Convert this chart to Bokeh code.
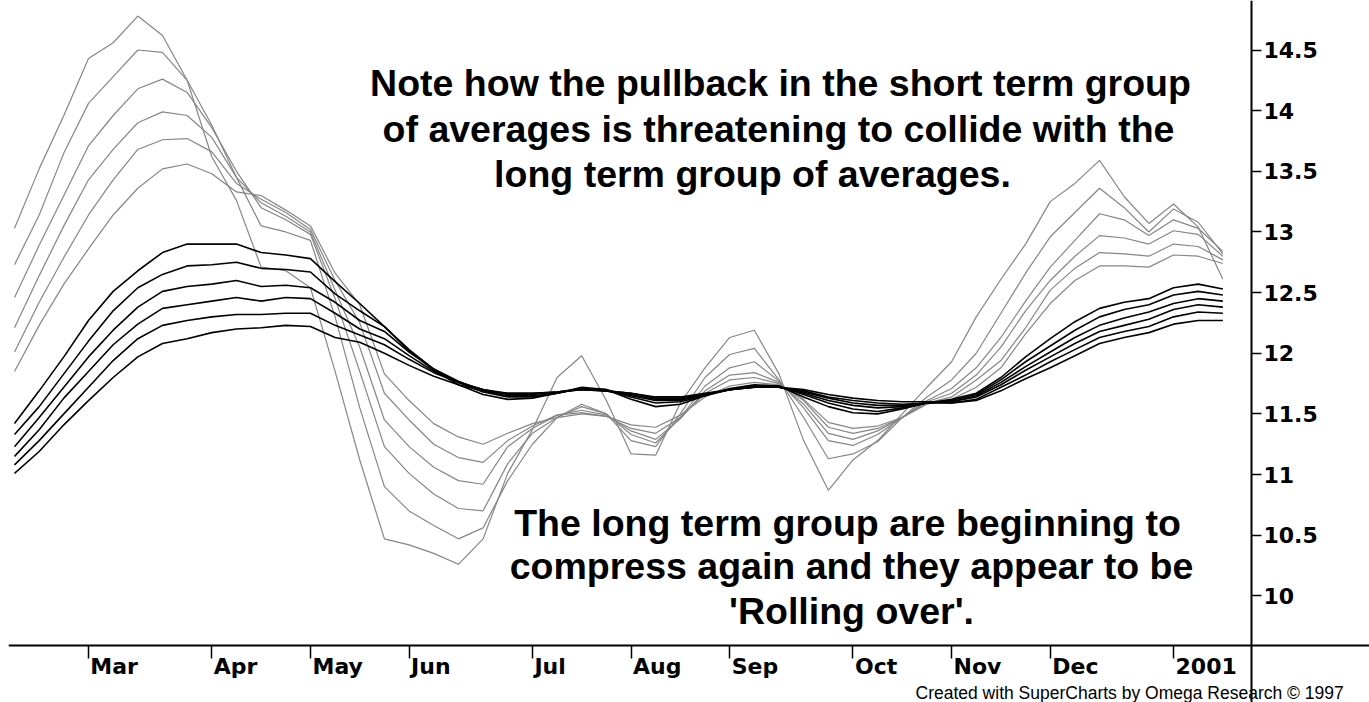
import pandas as pd
from bokeh.plotting import figure
from bokeh.models import Range1d, FixedTicker, Label, LinearAxis
from bokeh.embed import file_html
from bokeh.resources import INLINE

# ---------------- data (weekly closes, Fridays) ----------------
dates = pd.date_range("2000-02-11", periods=50, freq="7D")

month_ticks = ["2000-03-03", "2000-04-07", "2000-05-05", "2000-06-02", "2000-07-07",
               "2000-08-04", "2000-09-01", "2000-10-06", "2000-11-03", "2000-12-01",
               "2001-01-05"]
month_labels = ["Mar", "Apr", "May", "Jun", "Jul", "Aug", "Sep", "Oct", "Nov", "Dec", "2001"]

y_ticks = [10, 10.5, 11, 11.5, 12, 12.5, 13, 13.5, 14, 14.5]
y_labels = ["10", "10.5", "11", "11.5", "12", "12.5", "13", "13.5", "14", "14.5"]

# short term group (grey)
ema3 = [13.03, 13.52, 13.96, 14.43, 14.56, 14.78, 14.62, 14.25, 13.62, 13.26,
        12.71, 12.68, 12.54, 11.85, 11.12, 10.47, 10.42, 10.35, 10.26, 10.47,
        11.01, 11.37, 11.80, 11.98, 11.61, 11.17, 11.16, 11.59, 11.88, 12.13,
        12.19, 11.83, 11.28, 10.87, 11.12, 11.28, 11.50, 11.72, 11.93, 12.30,
        12.61, 12.90, 13.25, 13.40, 13.59, 13.29, 13.07, 13.23, 13.04, 12.61]
ema5 = [12.73, 13.14, 13.65, 14.06, 14.28, 14.50, 14.48, 14.25, 13.88, 13.45,
        13.05, 13.00, 12.93, 12.30, 11.55, 10.90, 10.70, 10.58, 10.47, 10.56,
        10.95, 11.25, 11.47, 11.58, 11.50, 11.28, 11.23, 11.50, 11.80, 11.99,
        12.04, 11.78, 11.47, 11.13, 11.17, 11.27, 11.47, 11.64, 11.78, 12.00,
        12.33, 12.66, 12.96, 13.16, 13.36, 13.20, 13.00, 13.19, 13.08, 12.82]
ema8 = [12.46, 12.89, 13.30, 13.71, 13.96, 14.18, 14.26, 14.15, 13.86, 13.50,
        13.20, 13.10, 12.98, 12.45, 11.85, 11.23, 11.01, 10.84, 10.72, 10.70,
        11.09, 11.34, 11.47, 11.56, 11.50, 11.33, 11.26, 11.47, 11.73, 11.88,
        11.93, 11.77, 11.55, 11.28, 11.24, 11.33, 11.47, 11.61, 11.71, 11.88,
        12.13, 12.43, 12.71, 12.93, 13.15, 13.10, 12.97, 13.10, 13.03, 12.84]
ema10 = [12.21, 12.64, 13.05, 13.43, 13.68, 13.90, 13.99, 13.96, 13.78, 13.45,
         13.24, 13.13, 13.00, 12.52, 12.05, 11.45, 11.23, 11.06, 10.95, 10.92,
         11.23, 11.38, 11.49, 11.53, 11.49, 11.36, 11.29, 11.46, 11.69, 11.82,
         11.84, 11.76, 11.58, 11.34, 11.29, 11.36, 11.47, 11.60, 11.67, 11.82,
         12.05, 12.35, 12.60, 12.80, 12.97, 12.95, 12.90, 13.01, 12.98, 12.80]
ema12 = [12.01, 12.42, 12.79, 13.14, 13.43, 13.68, 13.76, 13.77, 13.66, 13.40,
         13.27, 13.16, 13.02, 12.60, 12.25, 11.67, 11.45, 11.25, 11.14, 11.10,
         11.28, 11.40, 11.49, 11.51, 11.48, 11.38, 11.34, 11.47, 11.67, 11.78,
         11.80, 11.75, 11.61, 11.39, 11.34, 11.38, 11.47, 11.59, 11.64, 11.78,
         11.94, 12.21, 12.52, 12.70, 12.83, 12.82, 12.80, 12.90, 12.88, 12.77]
ema15 = [11.85, 12.23, 12.57, 12.86, 13.14, 13.36, 13.52, 13.56, 13.48, 13.33,
         13.30, 13.18, 13.05, 12.66, 12.40, 11.83, 11.61, 11.42, 11.31, 11.25,
         11.34, 11.42, 11.47, 11.50, 11.48, 11.41, 11.39, 11.49, 11.64, 11.73,
         11.76, 11.74, 11.62, 11.43, 11.38, 11.40, 11.47, 11.58, 11.62, 11.72,
         11.88, 12.16, 12.41, 12.60, 12.72, 12.72, 12.71, 12.81, 12.80, 12.74]

# long term group (black)
ema30 = [11.42, 11.69, 11.97, 12.27, 12.51, 12.68, 12.83, 12.90, 12.90, 12.90,
         12.83, 12.81, 12.78, 12.59, 12.41, 12.22, 12.02, 11.86, 11.74, 11.66,
         11.62, 11.63, 11.67, 11.72, 11.70, 11.62, 11.56, 11.58, 11.65, 11.71,
         11.74, 11.73, 11.64, 11.56, 11.51, 11.50, 11.54, 11.59, 11.62, 11.67,
         11.80, 11.97, 12.12, 12.26, 12.37, 12.42, 12.45, 12.54, 12.57, 12.53]
ema35 = [11.33, 11.56, 11.83, 12.10, 12.35, 12.54, 12.65, 12.72, 12.73, 12.75,
         12.70, 12.69, 12.67, 12.49, 12.35, 12.22, 12.03, 11.87, 11.76, 11.68,
         11.64, 11.64, 11.67, 11.71, 11.70, 11.64, 11.59, 11.60, 11.65, 11.70,
         11.73, 11.73, 11.66, 11.59, 11.54, 11.52, 11.55, 11.59, 11.61, 11.66,
         11.78, 11.93, 12.06, 12.19, 12.30, 12.36, 12.40, 12.48, 12.51, 12.48]
ema40 = [11.23, 11.47, 11.72, 11.97, 12.19, 12.38, 12.51, 12.55, 12.57, 12.60,
         12.55, 12.56, 12.54, 12.42, 12.27, 12.18, 12.01, 11.87, 11.77, 11.69,
         11.65, 11.65, 11.67, 11.71, 11.69, 11.65, 11.61, 11.61, 11.66, 11.70,
         11.73, 11.72, 11.67, 11.61, 11.57, 11.55, 11.56, 11.59, 11.60, 11.65,
         11.76, 11.89, 12.01, 12.13, 12.23, 12.29, 12.34, 12.41, 12.45, 12.43]
ema45 = [11.15, 11.37, 11.63, 11.85, 12.07, 12.24, 12.37, 12.40, 12.43, 12.46,
         12.43, 12.46, 12.45, 12.33, 12.20, 12.12, 11.98, 11.85, 11.76, 11.70,
         11.66, 11.66, 11.68, 11.71, 11.69, 11.66, 11.62, 11.62, 11.66, 11.70,
         11.72, 11.72, 11.68, 11.63, 11.59, 11.57, 11.57, 11.59, 11.60, 11.64,
         11.74, 11.86, 11.97, 12.08, 12.18, 12.23, 12.28, 12.36, 12.40, 12.38]
ema50 = [11.08, 11.28, 11.50, 11.72, 11.94, 12.12, 12.23, 12.27, 12.30, 12.32,
         12.32, 12.33, 12.33, 12.23, 12.15, 12.07, 11.95, 11.84, 11.76, 11.70,
         11.67, 11.67, 11.68, 11.70, 11.69, 11.67, 11.63, 11.63, 11.66, 11.70,
         11.72, 11.72, 11.69, 11.64, 11.61, 11.59, 11.58, 11.59, 11.59, 11.62,
         11.72, 11.82, 11.93, 12.03, 12.13, 12.18, 12.22, 12.30, 12.34, 12.33]
ema60 = [11.01, 11.19, 11.41, 11.61, 11.80, 11.97, 12.08, 12.12, 12.17, 12.20,
         12.21, 12.23, 12.22, 12.13, 12.09, 12.00, 11.90, 11.81, 11.74, 11.69,
         11.67, 11.67, 11.68, 11.70, 11.69, 11.67, 11.64, 11.64, 11.67, 11.70,
         11.72, 11.72, 11.70, 11.66, 11.63, 11.61, 11.60, 11.60, 11.59, 11.61,
         11.69, 11.79, 11.88, 11.98, 12.08, 12.13, 12.17, 12.24, 12.27, 12.27]

short_group = [ema3, ema5, ema8, ema10, ema12, ema15]
long_group = [ema30, ema35, ema40, ema45, ema50, ema60]

note_top = ["Note how the pullback in the short term group",
            "of averages is threatening to collide with the",
            "long term group of averages."]
note_bottom = ["The long term group are beginning to",
               "compress again and they appear to be",
               "'Rolling over'."]
credit = "Created with SuperCharts by Omega Research \u00a9 1997"

# ---------------- helpers: canvas pixel -> data (layout only) ----------------
T0 = pd.Timestamp("2000-03-03").value / 1e6
WEEK = 7 * 24 * 3600 * 1000.0


def px_x(px):
    return T0 + (px - 88.0) / 24.66 * WEEK


def px_y(py):
    return 14.5 - (py - 49.5) / 121.3


W, H = 1369, 702
p = figure(width=W, height=H, x_axis_type="datetime", y_axis_location="right",
           x_range=Range1d(px_x(8), px_x(W)), y_range=Range1d(px_y(H), px_y(0)),
           output_backend="svg", toolbar_location=None,
           min_border_left=8, min_border_top=0, min_border_right=0, min_border_bottom=0)
p.outline_line_color = None
p.xgrid.visible = False
p.ygrid.visible = False
p.background_fill_color = "white"
p.border_fill_color = "white"

for s in short_group:
    p.line(dates, s, line_color="#868686", line_width=1.2)
for s in long_group:
    p.line(dates, s, line_color="#000000", line_width=1.6)

FONT_AX = "DejaVu Sans"

# x axis: line and month ticks
tick_ms = [int(pd.Timestamp(d).value / 1e6) for d in month_ticks]
xa = p.xaxis[0]
xa.fixed_location = px_y(645)
xa.ticker = FixedTicker(ticks=tick_ms)
xa.major_label_overrides = {t: "" for t in tick_ms}
xa.axis_line_width = 2
xa.axis_line_color = "black"
xa.major_tick_in = 0
xa.major_tick_out = 13
xa.major_tick_line_width = 1.5
xa.minor_tick_out = 0
xa.minor_tick_in = 0

# month names, drawn by a label-only axis so they start at their ticks
em = {"Mar": 2.142, "Apr": 1.983, "May": 2.300, "Jun": 1.796, "Jul": 1.427, "Aug": 2.202,
      "Sep": 2.115, "Oct": 1.921, "Nov": 2.174, "Dec": 2.099, "2001": 2.784}
lab_fs = 22
lab_pos = [int(t + (2 + em[l] * lab_fs / 2) / 24.66 * WEEK) for t, l in zip(tick_ms, month_labels)]
xl = LinearAxis(ticker=FixedTicker(ticks=lab_pos),
                major_label_overrides=dict(zip(lab_pos, month_labels)),
                fixed_location=px_y(645), axis_line_color=None,
                major_tick_in=0, major_tick_out=0, minor_tick_in=0, minor_tick_out=0,
                major_label_standoff=8, major_label_text_font=FONT_AX,
                major_label_text_font_style="bold",
                major_label_text_font_size=f"{lab_fs}px", major_label_text_color="black")
p.add_layout(xl, "below")

# y axis (right side, fixed at the chart edge)
ya = p.yaxis[0]
ya.fixed_location = px_x(1251)
ya.ticker = FixedTicker(ticks=y_ticks)
ya.major_label_overrides = dict(zip(y_ticks, y_labels))
ya.axis_line_width = 2
ya.axis_line_color = "black"
ya.major_tick_in = 0
ya.major_tick_out = 10
ya.major_tick_line_width = 1.5
ya.minor_tick_out = 0
ya.minor_tick_in = 0
ya.major_label_standoff = 2
ya.major_label_text_font = FONT_AX
ya.major_label_text_font_style = "bold"
ya.major_label_text_font_size = "22px"
ya.major_label_text_color = "black"

# annotations
for txt, cx, by in zip(note_top, [780, 778, 752], [82, 128, 173]):
    p.add_layout(Label(x=px_x(cx), y=px_y(by), text=txt, text_align="center",
                       text_baseline="alphabetic", text_font="Liberation Sans",
                       text_font_style="bold", text_font_size="37.5px", text_color="black"))
for txt, cx, by in zip(note_bottom, [847, 851, 851], [522, 565, 610]):
    p.add_layout(Label(x=px_x(cx), y=px_y(by), text=txt, text_align="center",
                       text_baseline="alphabetic", text_font="Liberation Sans",
                       text_font_style="bold", text_font_size="37.5px", text_color="black"))

p.add_layout(Label(x=px_x(915), y=px_y(692), text=credit, text_align="left",
                   text_baseline="alphabetic", text_font="Liberation Sans",
                   text_font_size="17.5px", text_color="black"))

open("out.html", "w").write(file_html(p, INLINE))
